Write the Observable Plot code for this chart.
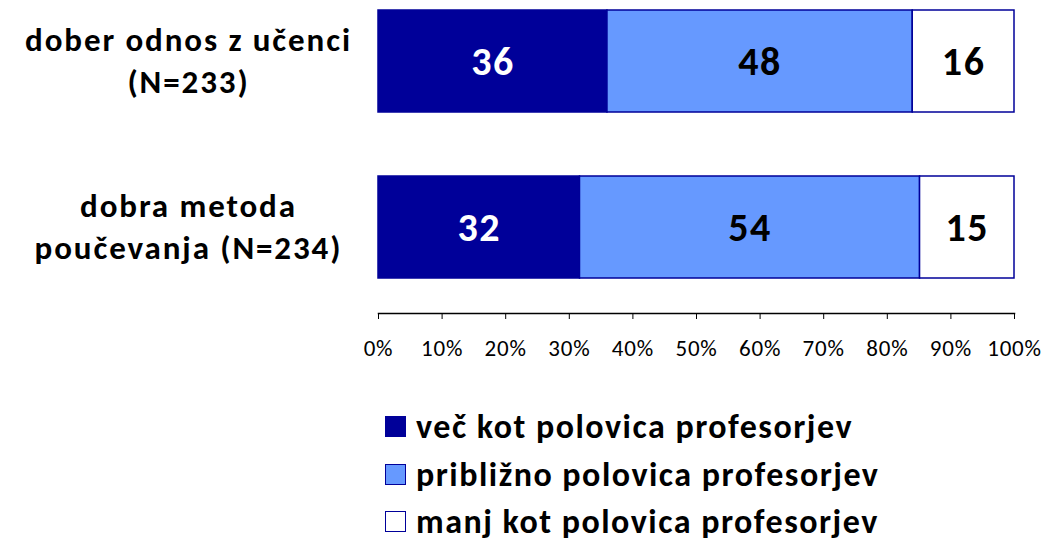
<!DOCTYPE html>
<html>
<head>
<meta charset="utf-8">
<script src="https://cdn.jsdelivr.net/npm/d3@7"></script>
<script src="https://cdn.jsdelivr.net/npm/@observablehq/plot@0.6"></script>
<style>
  body { margin: 0; background: #fff; font-family: Carlito, Lato, sans-serif; overflow: hidden; }
  #legend { margin-left: 385px; margin-top: 28px; }
  .row { display: flex; align-items: center; height: 47.5px; font-weight: bold; font-size: 34px; letter-spacing: 1.5px; color: #000; }
  .sw { width: 21px; height: 21px; box-sizing: border-box; border: 1.5px solid #000099; margin-right: 10px; }
</style>
</head>
<body>
<div id="chart"></div>
<div id="legend"></div>
<script>
const categories = ["dober odnos z učenci\n(N=233)", "dobra metoda\npoučevanja (N=234)"];
const seriesNames = ["več kot polovica profesorjev", "približno polovica profesorjev", "manj kot polovica profesorjev"];
const seriesColors = ["#000099", "#6699FF", "#FFFFFF"];
const values = [
  [36, 48, 16],
  [32, 54, 15]
];
const tickValues = [0, 0.1, 0.2, 0.3, 0.4, 0.5, 0.6, 0.7, 0.8, 0.9, 1];

const data = [];
categories.forEach((c, i) => seriesNames.forEach((s, j) => data.push({cat: c, series: s, value: values[i][j]})));

const stackOpts = {x: "value", y: "cat", z: "series", order: seriesNames, offset: "normalize"};

const chart = Plot.plot({
  width: 1046,
  height: 375,
  marginLeft: 378,
  marginRight: 32,
  marginTop: 0,
  marginBottom: 62,
  style: {fontFamily: "Carlito, Lato, sans-serif", background: "white"},
  x: {domain: [0, 1], label: null},
  y: {domain: categories, range: [0, 288], paddingInner: 0.383, paddingOuter: 0.054, axis: null},
  color: {domain: seriesNames, range: seriesColors},
  marks: [
    Plot.barX(data, Plot.stackX({...stackOpts, fill: "series", stroke: "#000099", strokeWidth: 1.5, inset: 0})),
    Plot.text(data, Plot.filter(d => d.series === seriesNames[0], Plot.stackX({...stackOpts, text: d => String(d.value), fill: "white", fontSize: 40, fontWeight: "bold", dy: 1}))),
    Plot.text(data, Plot.filter(d => d.series !== seriesNames[0], Plot.stackX({...stackOpts, text: d => String(d.value), fill: "black", fontSize: 40, fontWeight: "bold", dy: 1}))),
    Plot.text(categories, {y: d => d, x: 0, text: d => d, dx: -190, dy: -3, textAnchor: "middle", fontSize: 33, fontWeight: "bold", fill: "black", lineHeight: 1.28}),
    Plot.frame({anchor: "bottom", stroke: "black", strokeWidth: 1.5}),
    Plot.axisX({ticks: tickValues, tickFormat: d3.format(".0%"), tickSize: 6, tickPadding: 20, fontSize: 23, stroke: "black", fill: "black", label: null})
  ]
});
document.getElementById("chart").appendChild(chart);

// letter spacing to mimic the wider original typeface
const textGroups = chart.querySelectorAll('g[aria-label="text"]');
textGroups.forEach((g, i) => { g.style.letterSpacing = i < 2 ? "1.5px" : "1.9px"; });
const tickLabels = chart.querySelector('g[aria-label="x-axis tick label"]');
if (tickLabels) tickLabels.style.letterSpacing = "0.8px";

const legend = document.getElementById("legend");
seriesNames.forEach((s, j) => {
  const row = document.createElement("div");
  row.className = "row";
  const sw = document.createElement("div");
  sw.className = "sw";
  sw.style.background = seriesColors[j];
  row.appendChild(sw);
  const t = document.createElement("span");
  t.textContent = s;
  row.appendChild(t);
  legend.appendChild(row);
});
</script>
</body>
</html>
